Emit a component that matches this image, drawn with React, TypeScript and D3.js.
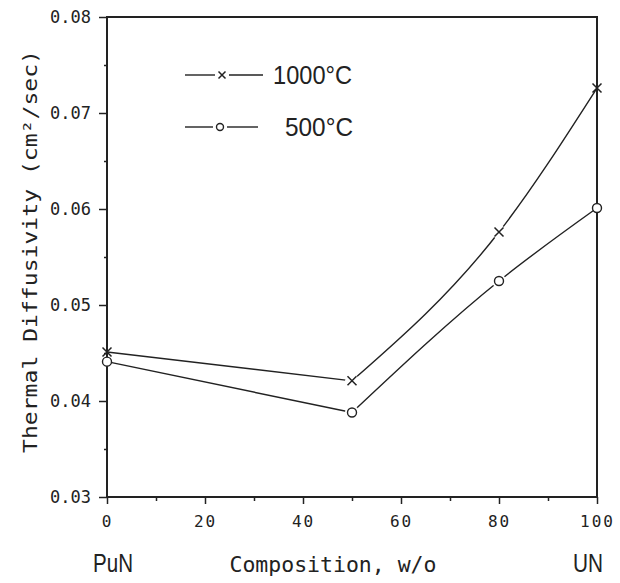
import { useRef, useEffect } from 'react';
import * as d3 from 'd3';

const composition = [0, 50, 80, 100];
const diff1000 = [0.0451, 0.0421, 0.0576, 0.0726];
const diff500 = [0.0441, 0.0388, 0.0525, 0.0601];
const xTicks = [0, 20, 40, 60, 80, 100];
const yTicks = [0.03, 0.04, 0.05, 0.06, 0.07, 0.08];
const legendLabels = ['1000\u00B0C', '500\u00B0C'];

const App: React.FC = () => {
  const ref = useRef<SVGSVGElement>(null);

  useEffect(() => {
    if (!ref.current) return;
    const svg = d3.select(ref.current);
    svg.selectAll('*').remove();

    const width = 620;
    const height = 583;
    const margin = { top: 17, right: 23, bottom: 86, left: 107 };
    const mono = '"DejaVu Sans Mono", monospace';
    const sans = '"Liberation Sans", Arial, sans-serif';

    const x = d3.scaleLinear().domain([0, 100]).range([margin.left, width - margin.right]);
    const y = d3.scaleLinear().domain([0.03, 0.08]).range([height - margin.bottom, margin.top]);

    svg.append('rect').attr('width', width).attr('height', height).attr('fill', '#fff');

    // straight run from PuN to 50 w/o, gently curved beyond
    const drawSeries = (s: number[]) => {
      const pts = composition.map((c, i) => [x(c), y(s[i])] as [number, number]);
      svg.append('path')
        .attr('d', d3.line()(pts.slice(0, 2)))
        .attr('fill', 'none')
        .attr('stroke', '#222')
        .attr('stroke-width', 1.4);
      svg.append('path')
        .attr('d', d3.line().curve(d3.curveMonotoneX)(pts.slice(1)))
        .attr('fill', 'none')
        .attr('stroke', '#222')
        .attr('stroke-width', 1.4);
    };
    drawSeries(diff1000);
    drawSeries(diff500);

    // small gaps where the line meets an inner marker
    [diff1000, diff500].forEach((s) => {
      s.forEach((v, i) => {
        if (composition[i] === 0 || composition[i] === 100) return;
        svg.append('circle')
          .attr('cx', x(composition[i]))
          .attr('cy', y(v))
          .attr('r', 7)
          .attr('fill', '#fff');
      });
    });

    // frame
    svg.append('rect')
      .attr('x', x(0))
      .attr('y', y(0.08))
      .attr('width', x(100) - x(0))
      .attr('height', y(0.03) - y(0.08))
      .attr('fill', 'none')
      .attr('stroke', '#222')
      .attr('stroke-width', 2);

    // left axis
    const yAxis = svg.append('g')
      .attr('transform', `translate(${x(0)},0)`)
      .call(d3.axisLeft(y).tickValues(yTicks).tickSize(8).tickPadding(8).tickFormat(d3.format('.2f')));
    yAxis.select('.domain').remove();
    yAxis.selectAll('line').attr('stroke', '#222').attr('stroke-width', 1.5);
    yAxis.selectAll('text')
      .attr('font-family', mono)
      .attr('font-size', 17)
      .attr('fill', '#222');
    svg.append('g')
      .attr('transform', `translate(${x(0)},0)`)
      .call(d3.axisLeft(y).tickValues(d3.range(0.035, 0.08, 0.01)).tickSize(3).tickFormat(() => ''))
      .call((g) => g.select('.domain').remove())
      .selectAll('line').attr('stroke', '#222').attr('stroke-width', 1.5);

    // bottom axis
    const xAxis = svg.append('g')
      .attr('transform', `translate(0,${y(0.03)})`)
      .call(d3.axisBottom(x).tickValues(xTicks).tickSize(7).tickPadding(12).tickFormat(d3.format('d')));
    xAxis.select('.domain').remove();
    xAxis.selectAll('line').attr('stroke', '#222').attr('stroke-width', 1.5);
    xAxis.selectAll('text')
      .attr('font-family', mono)
      .attr('font-size', 16)
      .attr('letter-spacing', 2)
      .attr('fill', '#222');
    svg.append('g')
      .attr('transform', `translate(0,${y(0.03)})`)
      .call(d3.axisBottom(x).tickValues(d3.range(10, 100, 20)).tickSize(4).tickFormat(() => ''))
      .call((g) => g.select('.domain').remove())
      .selectAll('line').attr('stroke', '#222').attr('stroke-width', 1.5);

    // markers
    const drawX = (g: any, cx: number, cy: number, r: number) => {
      g.append('path')
        .attr('d', `M${cx - r},${cy - r}L${cx + r},${cy + r}M${cx - r},${cy + r}L${cx + r},${cy - r}`)
        .attr('stroke', '#222')
        .attr('stroke-width', 1.5);
    };
    const drawO = (g: any, cx: number, cy: number, r: number) => {
      g.append('circle')
        .attr('cx', cx)
        .attr('cy', cy)
        .attr('r', r)
        .attr('fill', '#fff')
        .attr('stroke', '#222')
        .attr('stroke-width', 1.4);
    };
    diff1000.forEach((v, i) => drawX(svg, x(composition[i]), y(v), 4.5));
    diff500.forEach((v, i) => drawO(svg, x(composition[i]), y(v), 4.5));

    // legend
    const legend = svg.append('g');
    [0, 1].forEach((k) => {
      const ly = k === 0 ? 75 : 127;
      const x1 = 185;
      const x2 = k === 0 ? 263 : 258;
      const mx = k === 0 ? 222 : 220;
      legend.append('line').attr('x1', x1).attr('x2', mx - 7).attr('y1', ly).attr('y2', ly)
        .attr('stroke', '#222').attr('stroke-width', 1.4);
      legend.append('line').attr('x1', mx + 7).attr('x2', x2).attr('y1', ly).attr('y2', ly)
        .attr('stroke', '#222').attr('stroke-width', 1.4);
      if (k === 0) drawX(legend, mx, ly, 3.5);
      else drawO(legend, mx, ly, 3.5);
      legend.append('text')
        .attr('x', k === 0 ? 273 : 285)
        .attr('y', ly + 9)
        .attr('font-family', sans)
        .attr('font-size', 25)
        .attr('textLength', k === 0 ? 79 : 68)
        .attr('lengthAdjust', 'spacingAndGlyphs')
        .attr('fill', '#222')
        .text(legendLabels[k]);
    });

    // axis titles
    svg.append('text')
      .attr('transform', `translate(37,${(50 + 453) / 2}) rotate(-90)`)
      .attr('text-anchor', 'middle')
      .attr('font-family', mono)
      .attr('font-size', 19)
      .attr('textLength', 403)
      .attr('lengthAdjust', 'spacingAndGlyphs')
      .attr('fill', '#222')
      .text('Thermal Diffusivity (cm\u00B2/sec)');

    svg.append('text')
      .attr('x', 333)
      .attr('y', 572)
      .attr('text-anchor', 'middle')
      .attr('font-family', mono)
      .attr('font-size', 21)
      .attr('textLength', 207)
      .attr('lengthAdjust', 'spacingAndGlyphs')
      .attr('fill', '#222')
      .text('Composition, w/o');

    svg.append('text')
      .attr('x', 113)
      .attr('y', 572)
      .attr('text-anchor', 'middle')
      .attr('font-family', sans)
      .attr('font-size', 25)
      .attr('textLength', 40)
      .attr('lengthAdjust', 'spacingAndGlyphs')
      .attr('fill', '#222')
      .text('PuN');

    svg.append('text')
      .attr('x', 588)
      .attr('y', 572)
      .attr('text-anchor', 'middle')
      .attr('font-family', sans)
      .attr('font-size', 25)
      .attr('textLength', 30)
      .attr('lengthAdjust', 'spacingAndGlyphs')
      .attr('fill', '#222')
      .text('UN');
  }, []);

  return (
    <svg
      ref={ref}
      width={620}
      height={583}
      style={{ position: 'absolute', left: 0, top: 0 }}
    />
  );
};

export default App;
